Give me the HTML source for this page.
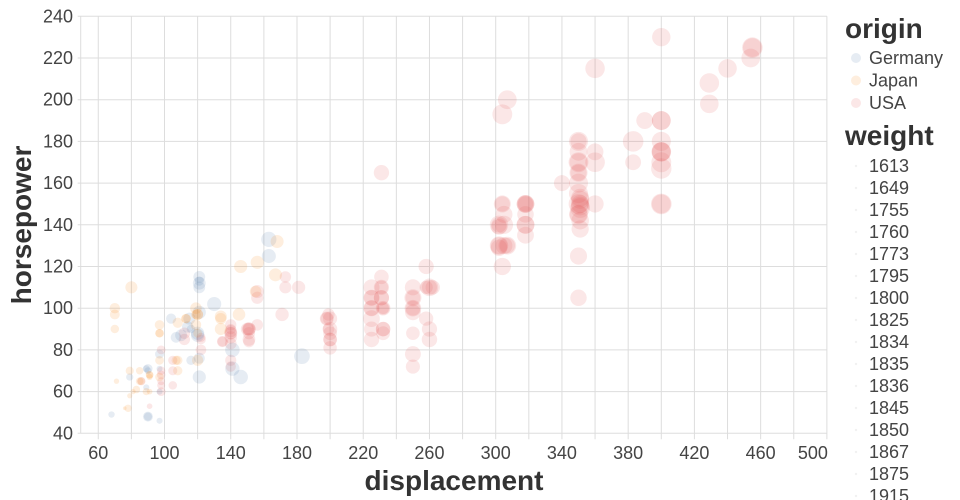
<!DOCTYPE html>
<html><head><meta charset="utf-8">
<style>
html,body{margin:0;padding:0;background:#fff;}
svg{display:block;font-family:"Liberation Sans",sans-serif;}
.tick{font-size:18px;fill:#444;}
.title{font-size:28px;font-weight:bold;fill:#333;}
.leg{font-size:18px;fill:#444;}
</style></head>
<body>
<svg id="chart" width="960" height="500">
  <g id="grid"></g>
  <g id="axes"></g>
  <g id="points"></g>
  <text class="title" x="454" y="490" text-anchor="middle">displacement</text>
  <text class="title" transform="translate(31,225) rotate(-90)" text-anchor="middle">horsepower</text>
  <g id="legend">
    <text class="title" x="845" y="38">origin</text>
    <text class="title" x="845" y="145">weight</text>
  </g>
</svg>
<script>
const xTicks=[60,100,140,180,220,260,300,340,380,420,460,500];
const yTicks=[40,60,80,100,120,140,160,180,200,220,240];
const originCats=["Germany","Japan","USA"];
const weightLabels=[1613,1649,1755,1760,1773,1795,1800,1825,1834,1835,1836,1845,1850,1867,1875,1915];

const usaDisp=[455,455,454,440,429,429,400,400,400,400,400,400,400,400,400,400,400,390,383,383,360,360,360,360,351,351,351,351,351,351,351,350,350,350,350,350,350,350,350,350,350,350,350,350,350,340,318,318,318,318,318,318,318,318,307,307,307,305,305,305,304,304,304,304,302,302,302,302,302,302,
262,260,260,260,260,258,258,258,250,250,250,250,250,250,250,250,250,232,232,232,232,232,232,231,231,231,231,231,231,225,225,225,225,225,225,225,225,200,200,200,200,200,200,198,198,199,199,171,173,173,181,151,151,151,151,151,151,156,156,156,140,140,140,140,140,140,140,140,140,135,135,150,122,122,122,98,98,98,98,98,98,105,105,105,112,112,91,86];
const usaHp=[225,225,220,215,198,208,150,175,170,190,180,230,167,150,175,175,190,190,170,180,215,175,170,150,153,150,142,148,152,149,138,165,145,165,150,155,175,180,170,160,145,125,105,180,170,160,150,150,140,145,150,135,140,150,130,200,130,145,140,130,150,193,150,120,140,139,130,129,140,130,
110,110,110,90,85,110,120,95,100,105,88,72,78,110,100,98,105,100,90,100,100,88,90,110,105,165,115,105,110,105,95,100,100,85,90,110,105,85,95,88,90,81,85,95,95,97,90,97,115,110,110,90,88,85,84,90,90,105,92,108,90,83,72,88,86,75,88,89,92,84,84,90,86,85,80,80,70,68,65,63,60,70,63,75,88,85,53,65];
const usaWeight=[4950,4425,4354,4312,4341,4633,4464,4464,4746,4422,4499,4278,4906,4997,4385,4668,4422,3850,3563,4955,4615,3821,4654,3940,4154,4129,4054,4657,4215,4335,3955,3693,4440,4209,4699,4502,4100,4499,4746,4456,4082,3900,3725,3664,4165,3609,3436,4135,4080,3755,3777,3830,4141,4077,3504,4376,4098,3880,4215,3840,3433,4732,3892,3962,3449,3570,4295,3725,4294,3870,
3221,4060,3365,3420,3465,2962,3410,3193,3329,3897,3021,3158,3574,3645,3781,3525,3353,2634,3265,2945,3288,3085,3210,3039,3425,3445,3245,3380,3415,3439,3785,3430,3651,3465,3381,3620,3613,3070,3155,3060,3210,3012,2990,2833,3102,2774,2648,2984,2595,2725,2945,2950,2740,2855,2635,2670,3003,2745,2620,2930,2408,2639,2401,2890,2790,2542,2720,2755,2572,2370,2525,2900,2226,2310,2451,2164,2120,2135,2045,2051,2164,2200,2125,2230,2605,2575,1795,2110];

const germanyDisp=[163,163,183,121,121,121,121,121,121,121,120,130,141,146,141,120,116,116,115,114,104,107,110,97,97,97,97,90,90,90,90,89,89,79,68];
const germanyHp=[125,133,77,112,110,115,113,98,76,67,88,102,71,67,80,87,90,75,95,91,95,86,87,46,71,78,60,48,48,70,71,71,62,67,49];
const germanyWeight=[3140,3410,3530,2868,2660,2671,2234,2945,2511,2950,2957,3150,3190,3250,3230,2979,2123,2246,2694,2582,2375,2464,2672,1835,1825,2188,1834,2335,2085,1937,2223,1925,1845,1963,1867];

const japanDisp=[168,146,156,167,155,134,134,134,145,119,119,119,120,120,120,120,113,113,108,108,108,107,97,97,97,97,97,91,91,91,91,85,85,86,89,79,78,70,70,70,80,81,71,76,79,83];
const japanHp=[132,120,122,116,108,95,96,90,97,97,100,92,97,88,75,97,95,95,93,75,70,75,88,88,92,75,67,68,67,68,60,65,70,65,60,70,52,90,97,100,110,60,65,52,58,61];
const japanWeight=[2910,2930,2930,2900,2620,2560,2702,2711,2815,2300,2615,2434,2506,2160,2542,2489,2228,2278,2391,2265,2245,2205,2130,2100,2288,2155,2145,1970,1850,2025,1800,2020,1990,2019,1968,2074,1985,2124,2330,2420,2720,1760,1773,1649,1755,2003];

const colors={Germany:"#4c78a8",Japan:"#f58518",USA:"#e45756"};
const X0=81.7,XS=1.656,Y0=433.3,YS=2.085;
function xs(d){return X0+(d-50)*XS;}
function ys(h){return Y0-(h-40)*YS;}
function rs(w){const a=6+Math.max(0,(w-1600))/3400*330;return Math.sqrt(a/Math.PI);}
const NS="http://www.w3.org/2000/svg";
function mk(tag,attrs,parent){const e=document.createElementNS(NS,tag);for(const k in attrs)e.setAttribute(k,attrs[k]);parent.appendChild(e);return e;}

const grid=document.getElementById('grid');
for(let v=60;v<=500;v+=20){
  const l=mk('line',{x1:xs(v),x2:xs(v),y1:ys(240),y2:ys(40)+6,stroke:'#ddd','stroke-width':1},grid);
  
  
}
for(const v of yTicks){
  const l=mk('line',{x1:X0-4,x2:xs(500),y1:ys(v),y2:ys(v),stroke:'#ddd','stroke-width':1},grid);
  
  
}
const axes=document.getElementById('axes');
const dl=mk('line',{x1:X0-1,x2:X0-1,y1:ys(240),y2:ys(40),stroke:'#ddd'},axes);


xTicks.forEach((v,i)=>{
  const last=i===xTicks.length-1;
  const t=mk('text',{x:last?xs(v)+1:xs(v),y:459,'text-anchor':last?'end':'middle',class:'tick'},axes);
  t.textContent=v;
  
  
});
yTicks.forEach(v=>{
  const t=mk('text',{x:73,y:ys(v)+6,'text-anchor':'end',class:'tick'},axes);
  t.textContent=v;
  
  
});
const pts=document.getElementById('points');
function drawSeries(name,disp,hp,wt){
  for(let i=0;i<disp.length;i++){
    const c=mk('circle',{cx:xs(disp[i]),cy:ys(hp[i]),r:rs(wt[i]),fill:colors[name],'fill-opacity':0.14},pts);
    
    
  }
}
drawSeries("USA",usaDisp,usaHp,usaWeight);
drawSeries("Germany",germanyDisp,germanyHp,germanyWeight);
drawSeries("Japan",japanDisp,japanHp,japanWeight);

const leg=document.getElementById('legend');
originCats.forEach((o,i)=>{
  const cy=58+i*22.5;
  const c=mk('circle',{cx:856,cy:cy,r:5,fill:colors[o],'fill-opacity':0.14},leg);
  
  
  const t=mk('text',{x:869,y:cy+6,class:'leg'},leg);
  t.textContent=o;
  
  
});
weightLabels.forEach((w,i)=>{
  const cy=166+i*22;
  const c=mk('circle',{cx:856,cy:cy,r:1.2,fill:'#888','fill-opacity':0.12},leg);
  
  
  const t=mk('text',{x:869,y:cy+6,class:'leg'},leg);
  t.textContent=w;
  
  
});
</script>
</body></html>
